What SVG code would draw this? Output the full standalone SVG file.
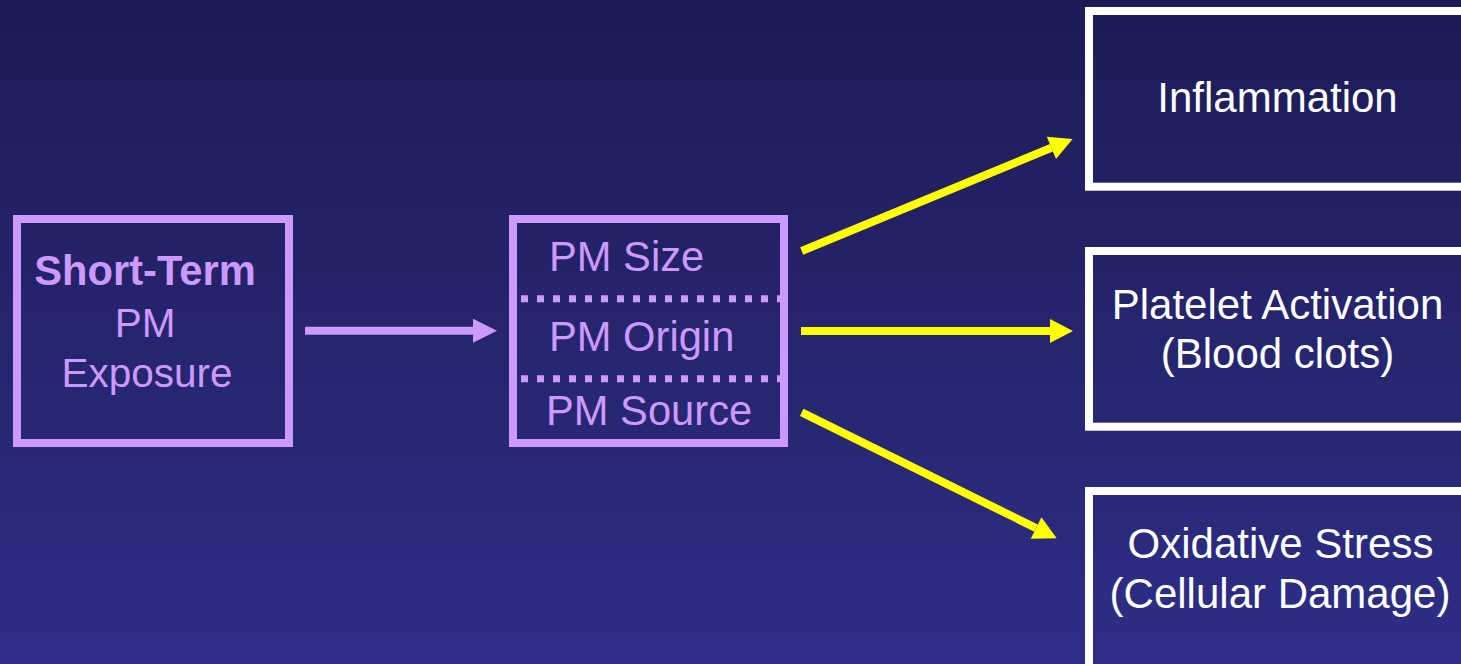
<svg xmlns="http://www.w3.org/2000/svg" width="1461" height="664" viewBox="0 0 1461 664">
<defs>
<linearGradient id="bg" x1="0" y1="0" x2="0" y2="1">
<stop offset="0" stop-color="#1d1b55"/>
<stop offset="1" stop-color="#2e2e87"/>
</linearGradient>
<marker id="headY" markerUnits="userSpaceOnUse" markerWidth="24" markerHeight="24" refX="0" refY="12" orient="auto" overflow="visible">
<path d="M0,0 L23,12 L0,24 Z" fill="#ffff00"/>
</marker>
<marker id="headP" markerUnits="userSpaceOnUse" markerWidth="24" markerHeight="24" refX="0" refY="12" orient="auto" overflow="visible">
<path d="M0,0 L24,12 L0,24 Z" fill="#cc99ff"/>
</marker>
</defs>
<style>
.pbox{fill:none;stroke:#cc99ff;stroke-width:8}
.wbox{fill:none;stroke:#ffffff;stroke-width:8}
.pt{font-family:"Liberation Sans",Arial,sans-serif;fill:#cc99ff}
.wt{font-family:"Liberation Sans",Arial,sans-serif;fill:#ffffff;font-size:42px;text-anchor:middle}
.dots{stroke:#cc99ff;stroke-width:7;stroke-dasharray:7 9}
.ya{stroke:#ffff00;stroke-width:8;fill:none;marker-end:url(#headY)}
.pa{stroke:#cc99ff;stroke-width:8;fill:none;marker-end:url(#headP)}
</style>
<rect x="0" y="0" width="1461" height="664" fill="url(#bg)"/>
<g id="connectors">
<line class="pa" x1="305" y1="330.7" x2="473" y2="330.7"/>
<line class="ya" x1="801.7" y1="251" x2="1051.4" y2="147.8"/>
<line class="ya" x1="801" y1="331" x2="1050" y2="331"/>
<line class="ya" x1="801.7" y1="412.3" x2="1036.1" y2="528.1"/>
</g>
<g id="exposure">
<rect class="pbox" x="17" y="219" width="272" height="224"/>
<text class="pt" x="145" y="285" font-size="41.7" font-weight="bold" text-anchor="middle">Short-Term</text>
<text class="pt" x="145" y="337" font-size="40.5" text-anchor="middle">PM</text>
<text class="pt" x="147" y="387" font-size="40.5" text-anchor="middle">Exposure</text>
</g>
<g id="pm-properties">
<rect class="pbox" x="513" y="219" width="271" height="224"/>
<line class="dots" x1="521" y1="298.7" x2="781" y2="298.7"/>
<line class="dots" x1="521" y1="378.7" x2="781" y2="378.7"/>
<text class="pt" x="549" y="270.7" font-size="41.7">PM Size</text>
<text class="pt" x="549" y="350.7" font-size="41.7">PM Origin</text>
<text class="pt" x="546" y="425" font-size="41.7">PM Source</text>
</g>
<g id="inflammation">
<rect class="wbox" x="1089" y="11" width="400" height="175.7"/>
<text class="wt" x="1277.5" y="111.7">Inflammation</text>
</g>
<g id="platelet">
<rect class="wbox" x="1089" y="251" width="400" height="175.7"/>
<text class="wt" x="1277.5" y="319.3">Platelet Activation</text>
<text class="wt" x="1277.5" y="368">(Blood clots)</text>
</g>
<g id="oxidative">
<rect class="wbox" x="1089" y="491" width="400" height="200"/>
<text class="wt" x="1280.5" y="558">Oxidative Stress</text>
<text class="wt" x="1280" y="608">(Cellular Damage)</text>
</g>
</svg>
